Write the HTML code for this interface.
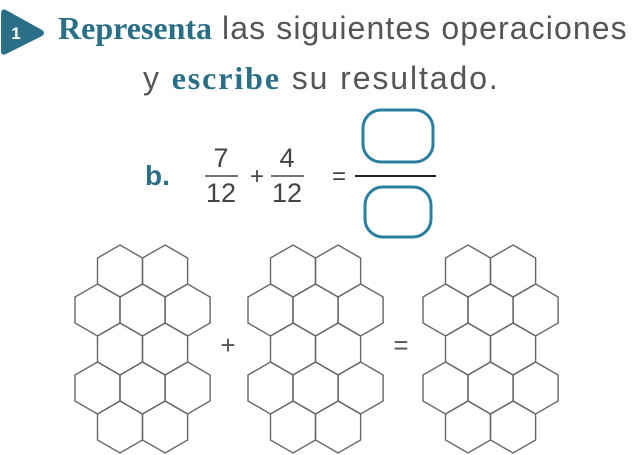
<!DOCTYPE html>
<html><head><meta charset="utf-8"><style>
html,body{margin:0;padding:0;background:#fff;width:633px;height:455px;overflow:hidden;font-family:"Liberation Sans",sans-serif}
.t{position:absolute;white-space:nowrap}
</style></head><body>
<div style="position:absolute;left:0;top:6px;width:50px;height:50px">
<svg width="50" height="50"><path d="M6 4 L42 24 Q46 27 42 30 L6 48 Q1 50 1 45 L1 8 Q1 2 6 4Z" fill="#2a6f86"/><text x="16" y="33" text-anchor="middle" font-size="17" font-weight="bold" fill="#fff" font-family="Liberation Sans">1</text></svg></div>
<div class="t" style="left:58px;top:10px;font-size:32px;letter-spacing:1.1px;color:#555"><span style="color:#2a6f86;font-weight:bold;font-family:'Liberation Serif',serif;font-size:32px;letter-spacing:0">Representa</span> las siguientes operaciones</div>
<div class="t" style="left:143px;top:60px;font-size:32px;letter-spacing:1.9px;color:#555">y <span style="color:#2a6f86;font-weight:bold;font-family:'Liberation Serif',serif">escribe</span> su resultado.</div>
<div class="t" style="left:145px;top:160px;font-size:28px;color:#2a6f86;font-weight:bold">b.</div>
<svg width="633" height="455" style="position:absolute;left:0;top:0">
<g font-family="Liberation Sans" fill="#444" text-anchor="middle" font-size="27">
<text x="221" y="167">7</text><line x1="205" y1="176" x2="238" y2="176" stroke="#444" stroke-width="1.5"/><text x="221" y="202">12</text>
<text x="257" y="184" font-size="24">+</text>
<text x="287" y="167">4</text><line x1="271" y1="176" x2="304" y2="176" stroke="#444" stroke-width="1.5"/><text x="287" y="202">12</text>
<text x="339" y="184" font-size="24">=</text>
</g>
<rect x="363" y="110" width="70" height="52" rx="18" fill="#fff" stroke="#2a7fa0" stroke-width="3"/>
<line x1="355" y1="176" x2="436" y2="176" stroke="#222" stroke-width="2"/>
<rect x="365" y="187" width="66" height="50" rx="18" fill="#fff" stroke="#2a7fa0" stroke-width="3"/>
<g id="hex" fill="none" stroke="#666" stroke-width="1.4"></g>
<text x="228" y="354" font-size="26" fill="#555" text-anchor="middle" font-family="Liberation Sans">+</text>
<text x="401" y="354" font-size="26" fill="#555" text-anchor="middle" font-family="Liberation Sans">=</text>
</svg>
<script>
const gridLeft=[75,248,423];
const rowCounts=[2,3,2,3,2];
const R=26, W=R*Math.sqrt(3), topY=245;
const g=document.getElementById('hex');
gridLeft.forEach((L,gi)=>{
 rowCounts.forEach((n,ri)=>{
  const cy=topY+R+ri*R*1.5;
  for(let i=0;i<n;i++){
   const cx=L+W/2+(n===2?W/2:0)+i*W;
   let pts=[];
   for(let k=0;k<6;k++){const a=Math.PI/180*(60*k-90);pts.push((cx+R*Math.cos(a)).toFixed(1)+','+(cy+R*Math.sin(a)).toFixed(1));}
   const p=document.createElementNS('http://www.w3.org/2000/svg','polygon');
   p.setAttribute('points',pts.join(' '));
   
   
   g.appendChild(p);
  }
 });
});
</script>
</body></html>
